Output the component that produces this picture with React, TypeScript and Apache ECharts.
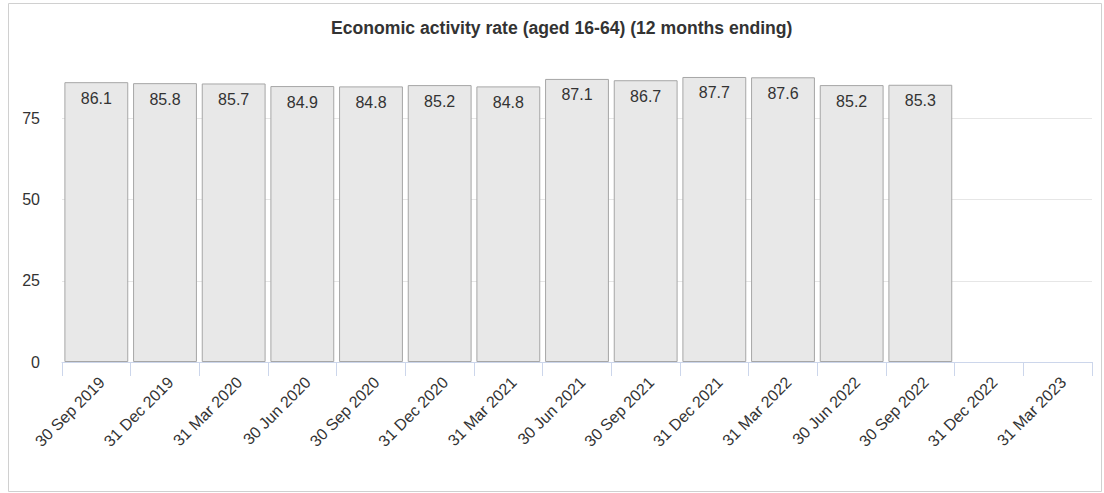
import React, { useEffect, useRef } from "react";
import * as echarts from "echarts";

const title = "Economic activity rate (aged 16-64) (12 months ending)";
const categories = [
  "30 Sep 2019", "31 Dec 2019", "31 Mar 2020", "30 Jun 2020", "30 Sep 2020",
  "31 Dec 2020", "31 Mar 2021", "30 Jun 2021", "30 Sep 2021", "31 Dec 2021",
  "31 Mar 2022", "30 Jun 2022", "30 Sep 2022", "31 Dec 2022", "31 Mar 2023",
];
const values: (number | null)[] = [
  86.1, 85.8, 85.7, 84.9, 84.8, 85.2, 84.8, 87.1, 86.7, 87.7, 87.6, 85.2, 85.3, null, null,
];
const yMin = 0;
const yMax = 100;
const yInterval = 25;

const FONT = "'Liberation Sans', Arial, sans-serif";

export default function App() {
  const ref = useRef<HTMLDivElement>(null);
  useEffect(() => {
    if (!ref.current) return;
    const chart = echarts.init(ref.current, undefined, { renderer: "svg" });
    chart.setOption({
      animation: false,
      backgroundColor: "#ffffff",
      textStyle: { fontFamily: FONT },
      title: {
        text: title,
        left: 326,
        top: 14,
        textStyle: { fontFamily: FONT, fontSize: 17.6, fontWeight: "bold", color: "#333333" },
      },
      graphic: [
        {
          type: "rect",
          shape: { x: 8.5, y: 3.5, width: 1093, height: 488 },
          style: { fill: "none", stroke: "#d0d0d0", lineWidth: 1 },
          silent: true,
        },
      ],
      grid: { left: 62, right: 12, top: 37, bottom: 131 },
      xAxis: {
        type: "category",
        data: categories,
        axisLine: { show: true, lineStyle: { color: "#ccd6eb", width: 1 } },
        axisTick: { show: true, length: 14, alignWithLabel: false, lineStyle: { color: "#ccd6eb" } },
        axisLabel: {
          rotate: 45,
          margin: 12,
          interval: 0,
          fontSize: 16,
          verticalAlign: "top",
          color: "#333333",
          fontFamily: FONT,
        },
      },
      yAxis: {
        type: "value",
        min: yMin,
        max: yMax,
        interval: yInterval,
        axisLine: { show: false },
        axisTick: { show: false },
        axisLabel: {
          showMaxLabel: false,
          margin: 22,
          fontSize: 16,
          color: "#333333",
          fontFamily: FONT,
        },
        splitLine: {
          show: true,
          lineStyle: { color: ["#e6e6e6", "#e6e6e6", "#e6e6e6", "#e6e6e6", "rgba(0,0,0,0)"], width: 1 },
        },
      },
      series: [
        {
          type: "bar",
          data: values,
          barCategoryGap: "7%",
          itemStyle: { color: "#e8e8e8", borderColor: "#a6a6a6", borderWidth: 1 },
          label: {
            show: true,
            position: "insideTop",
            distance: 8,
            fontSize: 16,
            color: "#333333",
            fontFamily: FONT,
          },
        },
      ],
    });
    return () => chart.dispose();
  }, []);
  return (
    <div
      ref={ref}
      style={{ position: "absolute", left: 0, top: 0, width: 1104, height: 493 }}
    />
  );
}
